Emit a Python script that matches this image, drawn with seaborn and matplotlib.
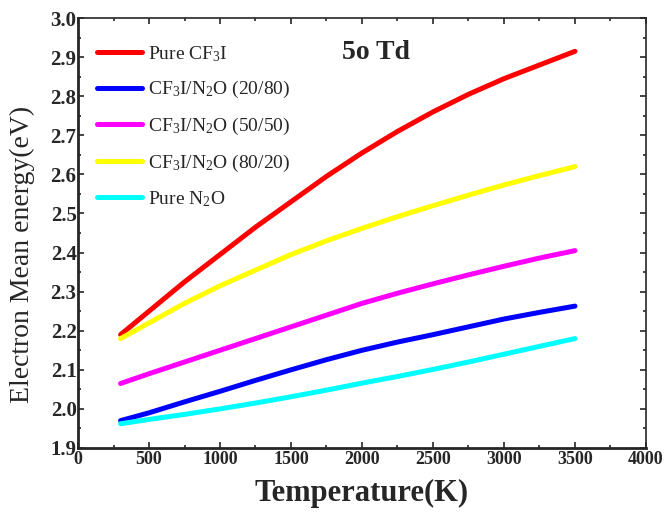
import numpy as np
import pandas as pd
import seaborn as sns
import matplotlib.pyplot as plt
from matplotlib.ticker import MultipleLocator

# data (5o Td)
temps = [300, 500, 750, 1000, 1250, 1500, 1750, 2000, 2250, 2500, 2750, 3000, 3250, 3500]
pure_cf3i = [2.19, 2.25, 2.325, 2.395, 2.465, 2.53, 2.595, 2.655, 2.71, 2.76, 2.805, 2.845, 2.88, 2.915]
mix_20_80 = [1.97, 1.99, 2.018, 2.045, 2.073, 2.10, 2.126, 2.15, 2.171, 2.19, 2.21, 2.23, 2.247, 2.263]
mix_50_50 = [2.065, 2.09, 2.12, 2.15, 2.18, 2.21, 2.24, 2.27, 2.296, 2.32, 2.343, 2.365, 2.386, 2.405]
mix_80_20 = [2.18, 2.22, 2.27, 2.315, 2.355, 2.395, 2.43, 2.462, 2.492, 2.52, 2.547, 2.573, 2.597, 2.62]
pure_n2o = [1.962, 1.973, 1.986, 2.0, 2.015, 2.031, 2.048, 2.066, 2.083, 2.101, 2.12, 2.14, 2.16, 2.18]

labels = ["Pure CF$_3$I", "CF$_3$I/N$_2$O (20/80)", "CF$_3$I/N$_2$O (50/50)",
          "CF$_3$I/N$_2$O (80/20)", "Pure N$_2$O"]
colors = ["#ff0000", "#0000ff", "#ff00ff", "#ffff00", "#00ffff"]
series = [pure_cf3i, mix_20_80, mix_50_50, mix_80_20, pure_n2o]

rows = []
for lab, vals in zip(labels, series):
    for t, v in zip(temps, vals):
        rows.append({"T": t, "E": v, "gas": lab})
df = pd.DataFrame(rows)

sns.set_style("ticks")
plt.rcParams['font.family'] = ['Liberation Serif', 'DejaVu Serif']
plt.rcParams['mathtext.fontset'] = 'custom'
plt.rcParams['mathtext.rm'] = 'Liberation Serif'
plt.rcParams['mathtext.it'] = 'Liberation Serif:italic'

fig = plt.figure(figsize=(6.69, 5.17), dpi=100)
ax = fig.add_axes([0.1166, 0.1335, 0.849, 0.8315])

sns.lineplot(data=df, x="T", y="E", hue="gas", palette=colors, hue_order=labels,
             linewidth=3.6, ax=ax)

ax.set_xlim(0, 4000)
ax.set_ylim(1.9, 3.0)
ax.xaxis.set_major_locator(MultipleLocator(500))
ax.xaxis.set_minor_locator(MultipleLocator(250))
ax.yaxis.set_major_locator(MultipleLocator(0.1))
ax.yaxis.set_minor_locator(MultipleLocator(0.05))
ax.tick_params(which='both', direction='in', top=True, right=True, width=1.2)
ax.tick_params(which='major', length=4)
ax.tick_params(which='minor', length=2)
ax.tick_params(axis='x', labelsize=13, pad=2)
ax.tick_params(axis='y', labelsize=15, pad=1)
for lbl in ax.get_xticklabels() + ax.get_yticklabels():
    lbl.set_fontweight('bold')
for s in ax.spines.values():
    s.set_linewidth(1.2)
ax.spines['left'].set_linewidth(2)
ax.spines['bottom'].set_linewidth(2)

ax.set_xlabel("Temperature(K)", fontsize=22, fontweight='bold', labelpad=8)
ax.set_ylabel("Electron Mean energy(eV)", fontsize=20)
ax.yaxis.set_label_coords(-0.076, 0.45)

ax.text(0.525, 0.92, "5o Td", transform=ax.transAxes, fontsize=20,
        fontweight='bold', ha='center', va='center')

ax.legend(loc='upper left', bbox_to_anchor=(0.0, 0.985), frameon=False,
          fontsize=14, handlelength=2.3, handletextpad=0.3, labelspacing=0.8,
          borderaxespad=0.6)

fig.savefig("out.png", dpi=100)
